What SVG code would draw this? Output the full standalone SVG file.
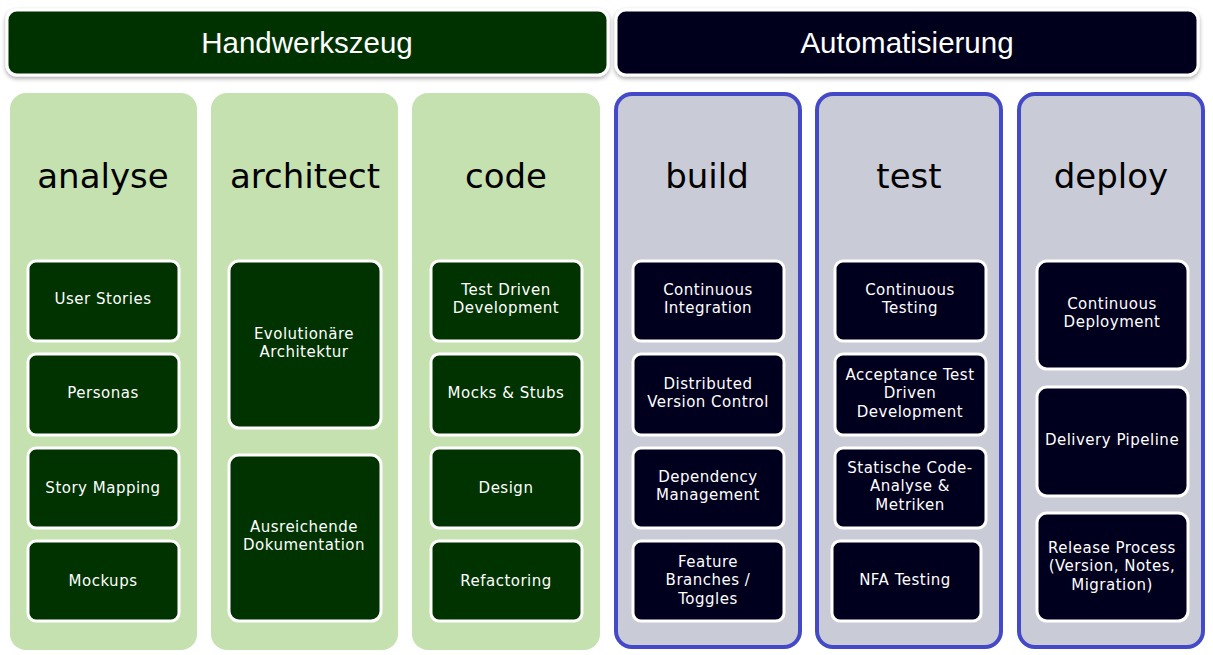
<svg xmlns="http://www.w3.org/2000/svg" width="1213" height="655" viewBox="0 0 1213 655">
<defs>
<filter id="sh" x="-5%" y="-20%" width="110%" height="150%"><feDropShadow dx="0" dy="2" stdDeviation="2" flood-color="#000" flood-opacity="0.35"/></filter>
<style>
.hdrG{fill:#003300;stroke:#fff;stroke-width:3}
.hdrB{fill:#00001e;stroke:#fff;stroke-width:3}
.hdrT{font-family:"Liberation Sans",Arial,sans-serif;font-size:29.5px;fill:#fff;text-anchor:middle}
.colG{fill:#c5e1b0}
.colB{fill:#c9cbd7;stroke:#4449c8;stroke-width:4}
.colT{font-family:"DejaVu Sans",sans-serif;font-size:34px;fill:#000;text-anchor:middle}
.boxG{fill:#003300;stroke:#fff;stroke-width:3}
.boxB{fill:#00001e;stroke:#fff;stroke-width:3}
.bT{font-family:"DejaVu Sans",sans-serif;font-size:15px;letter-spacing:0.5px;fill:#fff;text-anchor:middle}
</style>
</defs>
<rect width="1213" height="655" fill="#fff"/>
<g id="hdr-handwerkszeug"><rect class="hdrG" x="7" y="10" width="601" height="65" rx="10" filter="url(#sh)"/><text class="hdrT" x="307" y="53">Handwerkszeug</text></g>
<g id="hdr-automatisierung"><rect class="hdrB" x="616" y="10" width="582" height="65" rx="10" filter="url(#sh)"/><text class="hdrT" x="907" y="53">Automatisierung</text></g>

<g id="col-analyse"><rect class="colG" x="10" y="93" width="187" height="557" rx="16"/><text class="colT" x="103" y="188">analyse</text></g>
<g id="col-architect"><rect class="colG" x="211" y="93" width="187" height="557" rx="16"/><text class="colT" x="305" y="188">architect</text></g>
<g id="col-code"><rect class="colG" x="412" y="93" width="188" height="557" rx="16"/><text class="colT" x="506" y="188">code</text></g>
<g id="col-build"><rect class="colB" x="616" y="94" width="184" height="553" rx="16"/><text class="colT" x="707" y="188">build</text></g>
<g id="col-test"><rect class="colB" x="817" y="94" width="184" height="553" rx="16"/><text class="colT" x="909" y="188">test</text></g>
<g id="col-deploy"><rect class="colB" x="1019" y="94" width="184" height="553" rx="16"/><text class="colT" x="1111" y="188">deploy</text></g>

<g id="n-user-stories"><rect class="boxG" x="28" y="261" width="151" height="80" rx="8"/><text class="bT" x="103" y="304">User Stories</text></g>
<g id="n-personas"><rect class="boxG" x="28" y="354" width="151" height="81" rx="8"/><text class="bT" x="103" y="398">Personas</text></g>
<g id="n-story-mapping"><rect class="boxG" x="28" y="448" width="151" height="80" rx="8"/><text class="bT" x="103" y="493">Story Mapping</text></g>
<g id="n-mockups"><rect class="boxG" x="28" y="541" width="151" height="80" rx="8"/><text class="bT" x="103" y="586">Mockups</text></g>

<g id="n-evolutionaere"><rect class="boxG" x="229" y="261" width="152" height="167" rx="10"/><text class="bT" x="304" y="339">Evolutionäre</text><text class="bT" x="304" y="357">Architektur</text></g>
<g id="n-ausreichende"><rect class="boxG" x="229" y="455" width="152" height="166" rx="10"/><text class="bT" x="304" y="532">Ausreichende</text><text class="bT" x="304" y="550">Dokumentation</text></g>

<g id="n-tdd"><rect class="boxG" x="431" y="261" width="151" height="80" rx="8"/><text class="bT" x="506" y="295">Test Driven</text><text class="bT" x="506" y="313">Development</text></g>
<g id="n-mocks"><rect class="boxG" x="431" y="354" width="151" height="81" rx="8"/><text class="bT" x="506" y="398">Mocks &amp; Stubs</text></g>
<g id="n-design"><rect class="boxG" x="431" y="448" width="151" height="80" rx="8"/><text class="bT" x="506" y="493">Design</text></g>
<g id="n-refactoring"><rect class="boxG" x="431" y="541" width="151" height="80" rx="8"/><text class="bT" x="506" y="586">Refactoring</text></g>

<g id="n-ci"><rect class="boxB" x="633" y="261" width="151" height="80" rx="8"/><text class="bT" x="708" y="295">Continuous</text><text class="bT" x="708" y="313">Integration</text></g>
<g id="n-dvc"><rect class="boxB" x="633" y="354" width="151" height="81" rx="8"/><text class="bT" x="708" y="389">Distributed</text><text class="bT" x="708" y="407">Version Control</text></g>
<g id="n-dep"><rect class="boxB" x="633" y="448" width="151" height="80" rx="8"/><text class="bT" x="708" y="482">Dependency</text><text class="bT" x="708" y="500">Management</text></g>
<g id="n-feature"><rect class="boxB" x="633" y="541" width="151" height="80" rx="8"/><text class="bT" x="708" y="567">Feature</text><text class="bT" x="708" y="585">Branches /</text><text class="bT" x="708" y="604">Toggles</text></g>

<g id="n-ct"><rect class="boxB" x="835" y="261" width="151" height="80" rx="8"/><text class="bT" x="910" y="295">Continuous</text><text class="bT" x="910" y="313">Testing</text></g>
<g id="n-atdd"><rect class="boxB" x="835" y="354" width="151" height="81" rx="8"/><text class="bT" x="910" y="380">Acceptance Test</text><text class="bT" x="910" y="398">Driven</text><text class="bT" x="910" y="417">Development</text></g>
<g id="n-static"><rect class="boxB" x="835" y="448" width="151" height="80" rx="8"/><text class="bT" x="910" y="473">Statische Code-</text><text class="bT" x="910" y="491">Analyse &amp;</text><text class="bT" x="910" y="510">Metriken</text></g>
<g id="n-nfa"><rect class="boxB" x="832" y="541" width="149" height="80" rx="8"/><text class="bT" x="905" y="585">NFA Testing</text></g>

<g id="n-cd"><rect class="boxB" x="1037" y="261" width="151" height="108" rx="10"/><text class="bT" x="1112" y="309">Continuous</text><text class="bT" x="1112" y="327">Deployment</text></g>
<g id="n-pipeline"><rect class="boxB" x="1037" y="387" width="151" height="109" rx="10"/><text class="bT" x="1112" y="445">Delivery Pipeline</text></g>
<g id="n-release"><rect class="boxB" x="1037" y="513" width="151" height="108" rx="10"/><text class="bT" x="1112" y="553">Release Process</text><text class="bT" x="1112" y="571">(Version, Notes,</text><text class="bT" x="1112" y="590">Migration)</text></g>

<g id="connectors"></g>
</svg>
